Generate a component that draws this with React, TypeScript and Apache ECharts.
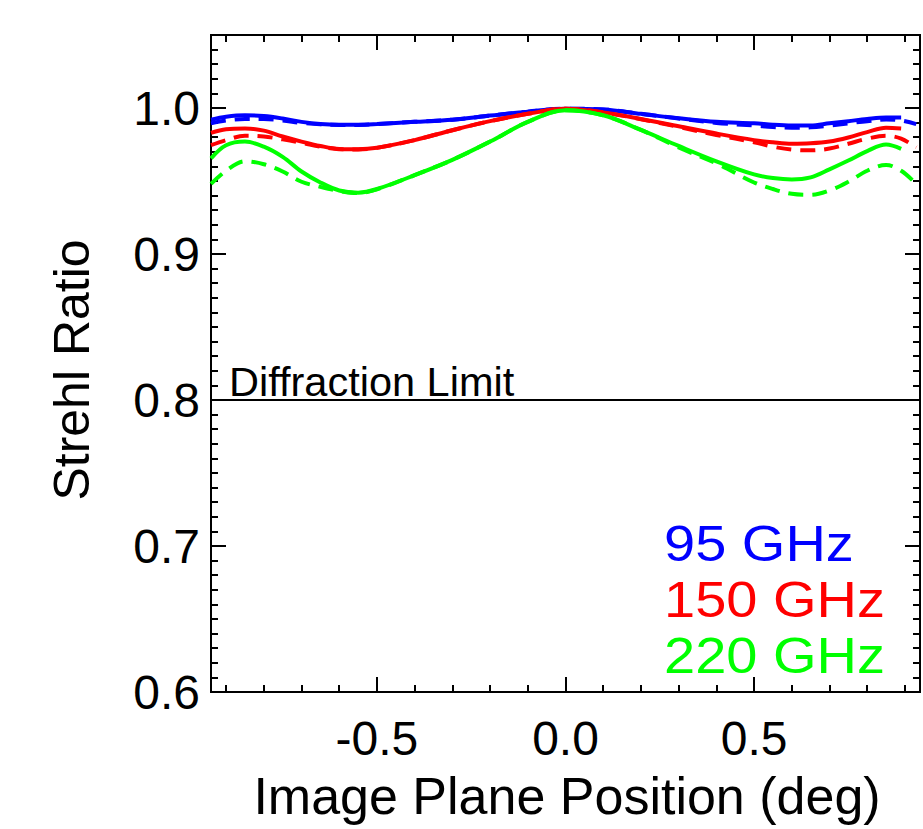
import React, { useEffect, useRef } from "react";
import * as echarts from "echarts";

const xSolid = [-0.94, -0.9, -0.85, -0.8, -0.75, -0.7, -0.65, -0.6, -0.55, -0.5, -0.4, -0.3, -0.2, -0.1, 0, 0.1, 0.2, 0.3, 0.4, 0.5, 0.55, 0.6, 0.65, 0.7, 0.75, 0.8, 0.85, 0.89];
const xDashed = [...xSolid, 0.93];

const blueSolid = [0.992, 0.994, 0.995, 0.9945, 0.9928, 0.9905, 0.989, 0.9885, 0.9885, 0.989, 0.9905, 0.992, 0.9948, 0.9975, 0.9995, 0.999, 0.996, 0.993, 0.9905, 0.9895, 0.9885, 0.988, 0.988, 0.9895, 0.991, 0.9925, 0.9935, 0.9935];
const blueDashed = [0.9895, 0.9915, 0.9925, 0.9925, 0.9915, 0.9898, 0.9888, 0.9884, 0.9884, 0.989, 0.9905, 0.992, 0.9948, 0.9975, 0.9995, 0.999, 0.996, 0.9928, 0.9898, 0.988, 0.987, 0.9865, 0.9868, 0.988, 0.9895, 0.991, 0.9922, 0.9915, 0.989];
const redSolid = [0.983, 0.9855, 0.986, 0.9845, 0.9805, 0.977, 0.974, 0.972, 0.9718, 0.9728, 0.978, 0.9848, 0.991, 0.996, 0.9995, 0.997, 0.9925, 0.9875, 0.9825, 0.978, 0.9765, 0.9755, 0.9758, 0.977, 0.9798, 0.9835, 0.9865, 0.986];
const redDashed = [0.9745, 0.978, 0.981, 0.9805, 0.9785, 0.9762, 0.9735, 0.9718, 0.9716, 0.9727, 0.978, 0.9848, 0.991, 0.996, 0.9995, 0.997, 0.9923, 0.987, 0.9815, 0.9765, 0.9735, 0.9715, 0.971, 0.9722, 0.9755, 0.979, 0.981, 0.979, 0.973];
const greenSolid = [0.9655, 0.9745, 0.977, 0.9735, 0.9665, 0.9565, 0.949, 0.9435, 0.942, 0.9445, 0.954, 0.9645, 0.977, 0.9905, 0.9985, 0.995, 0.985, 0.974, 0.9635, 0.9545, 0.952, 0.951, 0.9525, 0.958, 0.964, 0.9705, 0.975, 0.972];
const greenDashed = [0.948, 0.957, 0.9635, 0.9615, 0.9565, 0.9495, 0.946, 0.9432, 0.9418, 0.9443, 0.954, 0.9645, 0.977, 0.9905, 0.9985, 0.995, 0.985, 0.973, 0.962, 0.949, 0.9445, 0.9412, 0.9405, 0.9435, 0.9495, 0.957, 0.961, 0.957, 0.948];

const xMajor = [-0.5, 0, 0.5];
const xMinor = [-0.9, -0.8, -0.7, -0.6, -0.4, -0.3, -0.2, -0.1, 0.1, 0.2, 0.3, 0.4, 0.6, 0.7, 0.8, 0.9];
const yMajor = [0.6, 0.7, 0.8, 0.9, 1.0];
const yMinor: number[] = [];
for (let i = 61; i <= 104; i++) if (i % 10 !== 0) yMinor.push(i / 100);

const diffractionLimit = 0.8;
const legendLabels = ["95 GHz", "150 GHz", "220 GHz"];
const colors = ["#0000ff", "#ff0000", "#00ff00"];

const FONT = "'Liberation Sans', Arial, Helvetica, sans-serif";
const X_MIN = -0.94;
const X_MAX = 0.94;

function pairs(xs: number[], ys: number[]) {
  return ys.map((y, i) => [xs[i], y]);
}

export default function App() {
  const ref = useRef<HTMLDivElement>(null);
  useEffect(() => {
    if (!ref.current) return;
    const chart = echarts.init(ref.current, null, { renderer: "svg" });
    const axisLine = { show: true, onZero: false, lineStyle: { color: "#000", width: 2 } };
    const mkX = (position: string, values: number[], len: number, labels: boolean) => ({
      type: "value",
      position,
      min: X_MIN,
      max: X_MAX,
      axisLine,
      splitLine: { show: false },
      axisTick: { show: true, inside: true, length: len, customValues: values, lineStyle: { color: "#000", width: 2 } },
      axisLabel: labels
        ? { show: true, customValues: xMajor, formatter: (v: number) => v.toFixed(1), fontSize: 48, fontFamily: FONT, color: "#000", margin: 22 }
        : { show: false },
    });
    const mkY = (position: string, values: number[], len: number, labels: boolean) => ({
      type: "value",
      position,
      min: 0.6,
      max: 1.05,
      axisLine,
      splitLine: { show: false },
      axisTick: { show: true, inside: true, length: len, customValues: values, lineStyle: { color: "#000", width: 2 } },
      axisLabel: labels
        ? { show: true, customValues: yMajor, formatter: (v: number) => v.toFixed(1), fontSize: 48, fontFamily: FONT, color: "#000", margin: 11 }
        : { show: false },
    });
    const line = (name: string, xs: number[], ys: number[], color: string, dashed: boolean) => ({
      type: "line",
      name,
      xAxisIndex: 0,
      yAxisIndex: 0,
      data: pairs(xs, ys),
      smooth: 0.35,
      symbol: "none",
      lineStyle: { color, width: 4, type: dashed ? [15, 9] : "solid" },
      silent: true,
    });
    const legendText = (i: number, y: number) => ({
      type: "text",
      x: 664,
      y,
      scaleX: 1.12,
      style: { text: legendLabels[i], fontSize: 50, fontFamily: FONT, fill: colors[i], align: "left", verticalAlign: "middle" },
    });
    chart.setOption({
      animation: false,
      backgroundColor: "#fff",
      grid: { left: 211, right: 3, top: 35, bottom: 137, containLabel: false },
      xAxis: [
        mkX("bottom", xMajor, 15, true),
        mkX("bottom", xMinor, 7, false),
        mkX("top", xMajor, 15, false),
        mkX("top", xMinor, 7, false),
      ],
      yAxis: [
        mkY("left", yMajor, 15, true),
        mkY("left", yMinor, 7, false),
        mkY("right", yMajor, 15, false),
        mkY("right", yMinor, 7, false),
      ],
      series: [
        line("95 GHz", xSolid, blueSolid, colors[0], false),
        line("95 GHz dashed", xDashed, blueDashed, colors[0], true),
        line("150 GHz", xSolid, redSolid, colors[1], false),
        line("150 GHz dashed", xDashed, redDashed, colors[1], true),
        line("220 GHz", xSolid, greenSolid, colors[2], false),
        line("220 GHz dashed", xDashed, greenDashed, colors[2], true),
        {
          type: "line",
          name: "Diffraction Limit",
          data: [[X_MIN, diffractionLimit], [X_MAX, diffractionLimit]],
          symbol: "none",
          lineStyle: { color: "#000", width: 2 },
          silent: true,
        },
      ],
      graphic: [
        { type: "text", x: 229, y: 381, style: { text: "Diffraction Limit", fontSize: 41.5, fontFamily: FONT, fill: "#000", align: "left", verticalAlign: "middle" } },
        legendText(0, 544),
        legendText(1, 600),
        legendText(2, 656),
        { type: "text", x: 567, y: 796, style: { text: "Image Plane Position (deg)", fontSize: 52, fontFamily: FONT, fill: "#000", align: "center", verticalAlign: "middle" } },
        { type: "text", x: 72, y: 370, rotation: Math.PI / 2, style: { text: "Strehl Ratio", fontSize: 50, fontFamily: FONT, fill: "#000", align: "center", verticalAlign: "middle" } },
      ],
    });
    return () => chart.dispose();
  }, []);
  return <div ref={ref} style={{ position: "fixed", left: 0, top: 0, width: 923, height: 829, background: "#fff" }} />;
}
